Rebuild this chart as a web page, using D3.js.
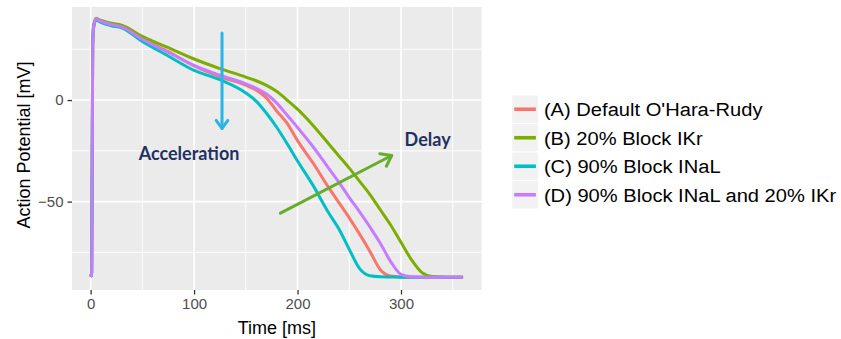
<!DOCTYPE html>
<html>
<head>
<meta charset="utf-8">
<script src="https://cdn.jsdelivr.net/npm/d3@7"></script>
<style>
  html, body { margin: 0; padding: 0; background: #ffffff; }
  svg { display: block; }
</style>
</head>
<body>
<svg id="chart" width="841" height="339"></svg>
<script>
// ---------- DATA ----------
const time = [0, 1, 2, 3, 5.5, 8, 12, 20, 30, 50, 75, 100, 125, 150, 160, 170, 180, 190, 200, 215, 230, 240, 250, 260, 270, 280, 290, 300, 310, 320, 330, 345, 360];

const seriesA = [-87, -85, 28, 36.5, 40, 39.2, 38.4, 37.3, 36.2, 30.2, 23.8, 16.8, 11.5, 7.3, 5.0, 1.0, -5.5, -11.5, -20, -31, -43, -50.5, -58, -66, -74.5, -83.5, -86.6, -87.1, -87.2, -87.2, -87.2, -87.2, -87.2];
const seriesB = [-87, -85, 28, 37, 40.3, 39.6, 38.9, 37.8, 36.9, 31.3, 25.8, 20.2, 15.5, 11.3, 9.5, 7.2, 4.2, 0, -4.5, -12.5, -21.5, -27.5, -33.5, -40, -46.5, -54, -61.5, -70, -78.5, -84.8, -86.8, -87.2, -87.2];
const seriesC = [-87, -85, 27, 36, 39.6, 38.7, 37.8, 36.6, 35.6, 28.8, 21.7, 14.6, 10.0, 3.5, -0.5, -6.5, -13.5, -21.5, -30, -42, -55.5, -63.5, -73.5, -83, -86.5, -87, -87.1, -87.2, -87.2, -87.2, -87.2, -87.2, -87.2];
const seriesD = [-87, -85, 28, 36.5, 40, 39.2, 38.4, 37.2, 36.0, 29.9, 23.5, 17.1, 12.2, 8.0, 5.8, 3.0, -1.5, -7.5, -13.5, -23, -33.5, -40.5, -48, -55, -62.5, -70.5, -79.5, -85.8, -87, -87.2, -87.2, -87.2, -87.2];

const seriesNames = ["(A) Default O'Hara-Rudy", "(B) 20% Block IKr", "(C) 90% Block INaL", "(D) 90% Block INaL and 20% IKr"];
const seriesColors = ["#F8766D", "#7CAE00", "#00BFC4", "#C77CFF"];

const xTicks = [0, 100, 200, 300];
const xMinor = [50, 150, 250, 350];
const yTicks = [0, -50];
const yMinor = [25, -25, -75];

const xTitle = "Time [ms]";
const yTitle = "Action Potential [mV]";

// annotations (data units)
const accelArrow = { x: 127, y1: 33, y2: -14 };
const accelLabel = { text: "Acceleration", x: 46.5, y: -29.5 };
const delayArrow = { x1: 183.5, y1: -55.7, x2: 291, y2: -27.3 };
const delayLabel = { text: "Delay", x: 303.5, y: -22.6 };

// ---------- LAYOUT ----------
const svg = d3.select("#chart");
const panel = { left: 72, right: 481.7, top: 7, bottom: 290 };

const x = d3.scaleLinear().domain([-18, 378]).range([panel.left, panel.right]);
const y = d3.scaleLinear().domain([-93.5, 45.8]).range([panel.bottom, panel.top]);

// panel background
svg.append("rect")
  .attr("x", panel.left).attr("y", panel.top)
  .attr("width", panel.right - panel.left).attr("height", panel.bottom - panel.top)
  .attr("fill", "#EBEBEB");

const grid = svg.append("g");
grid.selectAll(".xm").data(xMinor).join("line")
  .attr("x1", d => x(d)).attr("x2", d => x(d))
  .attr("y1", panel.top).attr("y2", panel.bottom)
  .attr("stroke", "#fff").attr("stroke-width", 0.9);
grid.selectAll(".ym").data(yMinor).join("line")
  .attr("y1", d => y(d)).attr("y2", d => y(d))
  .attr("x1", panel.left).attr("x2", panel.right)
  .attr("stroke", "#fff").attr("stroke-width", 0.9);
grid.selectAll(".xM").data(xTicks).join("line")
  .attr("x1", d => x(d)).attr("x2", d => x(d))
  .attr("y1", panel.top).attr("y2", panel.bottom)
  .attr("stroke", "#fff").attr("stroke-width", 1.6);
grid.selectAll(".yM").data(yTicks).join("line")
  .attr("y1", d => y(d)).attr("y2", d => y(d))
  .attr("x1", panel.left).attr("x2", panel.right)
  .attr("stroke", "#fff").attr("stroke-width", 1.6);

// axes
const xAxis = d3.axisBottom(x).tickValues(xTicks).tickSize(4.5).tickPadding(4);
const yAxis = d3.axisLeft(y).tickValues(yTicks).tickSize(4.5).tickPadding(4);

const gx = svg.append("g").attr("transform", `translate(0,${panel.bottom})`).call(xAxis);
const gy = svg.append("g").attr("transform", `translate(${panel.left},0)`).call(yAxis);
[gx, gy].forEach(g => {
  g.select(".domain").remove();
  g.selectAll(".tick line").attr("stroke", "#333333").attr("stroke-width", 1.3);
  g.selectAll(".tick text")
    .attr("fill", "#4D4D4D")
    .style("font-family", "'Liberation Sans', Arial, sans-serif")
    .style("font-size", "15px");
});

// axis titles
svg.append("text")
  .attr("x", (panel.left + panel.right) / 2).attr("y", 334)
  .attr("text-anchor", "middle")
  .style("font-family", "'Liberation Sans', Arial, sans-serif")
  .style("font-size", "18px").attr("fill", "#000")
  .text(xTitle);
svg.append("text")
  .attr("transform", `translate(30,145) rotate(-90)`)
  .attr("text-anchor", "middle")
  .style("font-family", "'Liberation Sans', Arial, sans-serif")
  .style("font-size", "18px").attr("fill", "#000")
  .text(yTitle);

// lines
const allSeries = [seriesA, seriesB, seriesC, seriesD];
const line = d3.line()
  .x((d, i) => x(time[i]))
  .y(d => y(d))
  .curve(d3.curveMonotoneX);

svg.append("clipPath").attr("id", "clip")
  .append("rect").attr("x", panel.left).attr("y", panel.top)
  .attr("width", panel.right - panel.left).attr("height", panel.bottom - panel.top);

svg.append("g").attr("clip-path", "url(#clip)")
  .selectAll("path").data(allSeries).join("path")
  .attr("d", d => line(d))
  .attr("fill", "none")
  .attr("stroke", (d, i) => seriesColors[i])
  .attr("stroke-width", 3)
  .attr("stroke-linejoin", "round");

// annotations
function arrow(g, x1, y1, x2, y2, color, w, headLen, headAng) {
  g.append("line").attr("x1", x1).attr("y1", y1).attr("x2", x2).attr("y2", y2)
    .attr("stroke", color).attr("stroke-width", w).attr("stroke-linecap", "round");
  const a = Math.atan2(y2 - y1, x2 - x1);
  const p1 = [x2 - headLen * Math.cos(a - headAng), y2 - headLen * Math.sin(a - headAng)];
  const p2 = [x2 - headLen * Math.cos(a + headAng), y2 - headLen * Math.sin(a + headAng)];
  g.append("path").attr("d", `M${p1[0]},${p1[1]}L${x2},${y2}L${p2[0]},${p2[1]}`)
    .attr("fill", "none").attr("stroke", color).attr("stroke-width", w)
    .attr("stroke-linecap", "round").attr("stroke-linejoin", "round");
}
const ann = svg.append("g");
arrow(ann, x(accelArrow.x), y(accelArrow.y1), x(accelArrow.x), y(accelArrow.y2), "#2AB4E8", 3, 10, Math.PI / 5);
arrow(ann, x(delayArrow.x1), y(delayArrow.y1), x(delayArrow.x2), y(delayArrow.y2), "#66AD2C", 3, 12, Math.PI / 5);

ann.append("text").attr("x", x(accelLabel.x)).attr("y", y(accelLabel.y))
  .style("font-family", "Lato, 'Open Sans', sans-serif").style("font-weight", "bold")
  .style("font-size", "18px").attr("fill", "#1F3162").text(accelLabel.text);
ann.append("text").attr("x", x(delayLabel.x)).attr("y", y(delayLabel.y))
  .style("font-family", "Lato, 'Open Sans', sans-serif").style("font-weight", "bold")
  .style("font-size", "18px").attr("fill", "#1F3162").text(delayLabel.text);

// legend
const leg = svg.append("g").attr("transform", "translate(511.7,95)");
const keyW = 26.7, keyH = 28.5;
const items = leg.selectAll("g").data(seriesNames).join("g")
  .attr("transform", (d, i) => `translate(0,${i * keyH})`);
items.append("rect").attr("width", keyW).attr("height", keyH)
  .attr("fill", "#F2F2F2").attr("stroke", "#fff").attr("stroke-width", 1);
items.append("line").attr("x1", 2.5).attr("x2", keyW - 2.5)
  .attr("y1", keyH / 2).attr("y2", keyH / 2)
  .attr("stroke", (d, i) => seriesColors[i]).attr("stroke-width", 3.6);
items.append("text")
  .attr("transform", `translate(${keyW + 5.5},${keyH / 2}) scale(1.06,1)`)
  .attr("dy", "0.36em")
  .style("font-family", "'Liberation Sans', Arial, sans-serif")
  .style("font-size", "19px").attr("fill", "#000").text(d => d);
</script>
</body>
</html>
